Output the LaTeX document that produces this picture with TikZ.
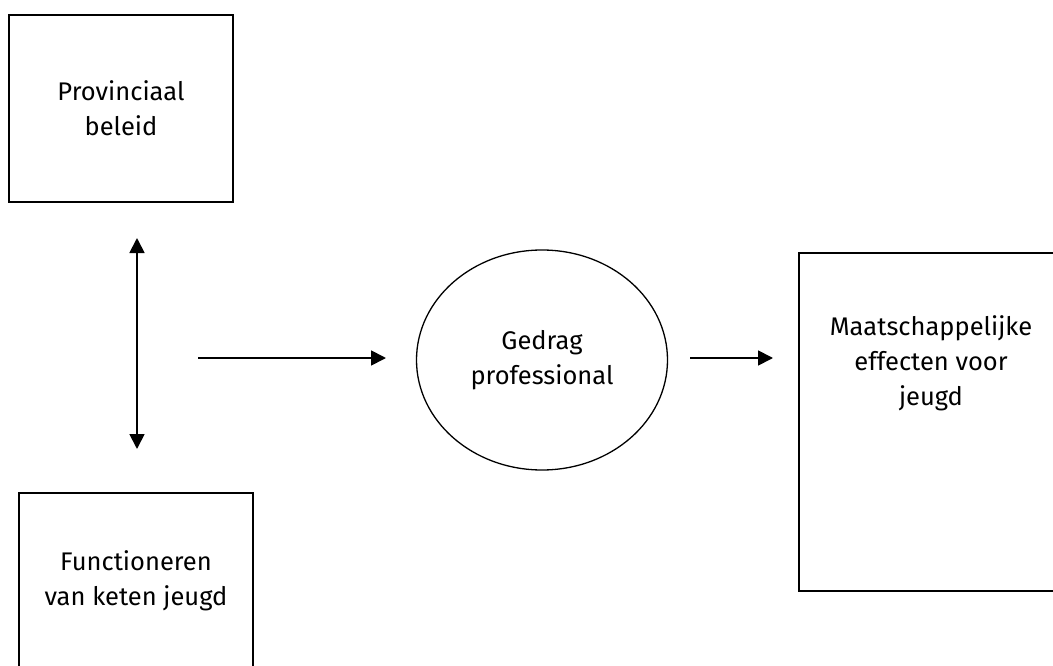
\documentclass[tikz,border=0pt]{standalone}
\usepackage{fontspec}
\setmainfont{Fira Sans}
\usetikzlibrary{arrows.meta,shapes.geometric}

\begin{document}
\begin{tikzpicture}[x=1pt,y=-1pt,
	box/.style={draw,line width=1.8pt,rectangle,align=center},
	oval/.style={draw,line width=1.3pt,ellipse,align=center,inner sep=0pt},
	txt/.style={align=center},
	pijl/.style={line width=1.8pt,-{Triangle[width=15pt,length=15pt]}},
	dubbelpijl/.style={line width=1.8pt,{Triangle[width=15pt,length=15pt]}-{Triangle[width=15pt,length=15pt]}},
	font=\fontsize{25.5}{35}\selectfont]
	
	\def\breedte{1053};
	\def\hoogte{666};
	
	\useasboundingbox (0,0) rectangle (\breedte,\hoogte);
	\clip (0,0) rectangle (\breedte,\hoogte);
	
	% blokken
	\node[box,minimum width=224pt,minimum height=187pt] (beleid) at (121,108.5) {Provinciaal\\beleid};
	\node[box,minimum width=234pt,minimum height=176pt] (keten) at (136,581) {Functioneren\\van keten jeugd};
	\node[oval,minimum width=251pt,minimum height=220pt] (gedrag) at (542,360) {Gedrag\\professional};
	\node[box,minimum width=264pt,minimum height=338pt] (effecten) at (931,422) {};
	\node[txt] (effectentekst) at (931,363) {Maatschappelijke\\effecten voor\\jeugd};
	
	% pijlen
	\coordinate (dubbelboven) at (137,238);
	\coordinate (dubbelonder) at (137,449);
	\coordinate (links) at (198,358);
	\coordinate (linkseind) at (386,358);
	\coordinate (rechts) at (690,358);
	\coordinate (rechtseind) at (773,358);
	
	\draw[dubbelpijl] (dubbelboven) -- (dubbelonder);
	\draw[pijl] (links) -- (linkseind);
	\draw[pijl] (rechts) -- (rechtseind);
	
\end{tikzpicture}
\end{document}
